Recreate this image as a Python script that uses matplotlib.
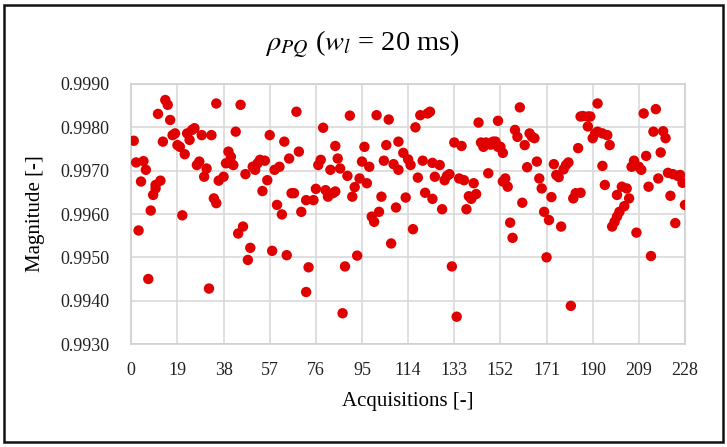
import matplotlib
matplotlib.use("Agg")
import matplotlib.pyplot as plt
from matplotlib.patches import Rectangle

plt.rcParams['font.family'] = ['Liberation Serif', 'DejaVu Serif']
plt.rcParams['mathtext.fontset'] = 'stix'

# acquisition number and rho_PQ magnitude
acq = [1, 2, 3, 4, 5, 6, 7, 8, 9, 10, 10, 11, 12, 13, 14, 15, 16, 17, 18, 19,
       20, 21, 22, 23, 24, 25, 26, 27, 28, 29, 30, 31, 32, 33, 34, 35, 35, 36, 38, 39,
       40, 41, 41, 42, 43, 44, 45, 46, 47, 48, 49, 50, 51, 52, 53, 54, 55, 56, 57, 58,
       59, 60, 61, 62, 63, 64, 65, 66, 67, 68, 69, 70, 72, 72, 73, 75, 76, 77, 78, 79,
       80, 81, 82, 83, 84, 84, 85, 86, 87, 88, 89, 90, 91, 92, 93, 94, 95, 96, 97, 98,
       99, 100, 101, 102, 103, 104, 105, 106, 107, 108, 109, 110, 110, 112, 113, 114, 115, 116, 117, 118,
       119, 120, 121, 122, 123, 124, 124, 125, 127, 128, 129, 130, 131, 132, 133, 134, 135, 136, 137, 138,
       139, 140, 141, 142, 143, 144, 145, 146, 147, 148, 149, 150, 151, 151, 152, 153, 153, 154, 155, 156,
       157, 158, 159, 160, 161, 162, 163, 164, 165, 166, 167, 168, 169, 170, 171, 172, 173, 174, 175, 176,
       177, 178, 179, 180, 181, 182, 183, 184, 185, 185, 186, 188, 188, 189, 190, 191, 192, 192, 194, 194,
       195, 196, 197, 198, 199, 200, 200, 201, 202, 203, 204, 205, 206, 207, 208, 209, 210, 211, 212, 213,
       214, 215, 216, 217, 218, 219, 220, 221, 222, 223, 224, 225, 226, 227, 228]

rho = [0.99769, 0.99719, 0.99562, 0.99675, 0.99722, 0.99702, 0.99450, 0.99608, 0.99644, 0.99659,
       0.99667, 0.99831, 0.99677, 0.99767, 0.99863, 0.99852, 0.99817, 0.99782, 0.99786, 0.99759,
       0.99755, 0.99597, 0.99738, 0.99786, 0.99771, 0.99794, 0.99798, 0.99713, 0.99721, 0.99782,
       0.99686, 0.99705, 0.99428, 0.99782, 0.99636, 0.99855, 0.99625, 0.99677, 0.99686, 0.99717,
       0.99744, 0.99732, 0.99717, 0.99713, 0.99790, 0.99555, 0.99852, 0.99571, 0.99692, 0.99494,
       0.99522, 0.99709, 0.99702, 0.99717, 0.99725, 0.99653, 0.99723, 0.99678, 0.99782, 0.99515,
       0.99702, 0.99621, 0.99709, 0.99599, 0.99767, 0.99505, 0.99728, 0.99648, 0.99648, 0.99836,
       0.99744, 0.99605, 0.99632, 0.99420, 0.99477, 0.99632, 0.99658, 0.99713, 0.99725, 0.99799,
       0.99655, 0.99640, 0.99702, 0.99648, 0.99652, 0.99757, 0.99728, 0.99705, 0.99371, 0.99479,
       0.99688, 0.99827, 0.99640, 0.99662, 0.99504, 0.99682, 0.99721, 0.99755, 0.99671, 0.99709,
       0.99594, 0.99582, 0.99828, 0.99605, 0.99640, 0.99723, 0.99759, 0.99818, 0.99532, 0.99715,
       0.99615, 0.99702, 0.99767, 0.99741, 0.99638, 0.99726, 0.99713, 0.99565, 0.99800, 0.99684,
       0.99828, 0.99723, 0.99649, 0.99832, 0.99836, 0.99635, 0.99718, 0.99686, 0.99713, 0.99611,
       0.99678, 0.99688, 0.99692, 0.99479, 0.99765, 0.99363, 0.99682, 0.99757, 0.99678, 0.99611,
       0.99641, 0.99635, 0.99671, 0.99646, 0.99811, 0.99765, 0.99755, 0.99765, 0.99694, 0.99760,
       0.99767, 0.99767, 0.99755, 0.99815, 0.99755, 0.99741, 0.99675, 0.99682, 0.99663, 0.99580,
       0.99545, 0.99794, 0.99778, 0.99846, 0.99626, 0.99759, 0.99708, 0.99786, 0.99778, 0.99775,
       0.99721, 0.99682, 0.99659, 0.99605, 0.99500, 0.99586, 0.99639, 0.99715, 0.99690, 0.99685,
       0.99571, 0.99703, 0.99713, 0.99719, 0.99388, 0.99636, 0.99648, 0.99752, 0.99825, 0.99649,
       0.99826, 0.99825, 0.99802, 0.99825, 0.99775, 0.99786, 0.99855, 0.99790, 0.99786, 0.99711,
       0.99667, 0.99782, 0.99759, 0.99571, 0.99582, 0.99594, 0.99644, 0.99605, 0.99663, 0.99618,
       0.99659, 0.99636, 0.99709, 0.99723, 0.99557, 0.99709, 0.99702, 0.99832, 0.99734, 0.99663,
       0.99503, 0.99790, 0.99842, 0.99682, 0.99742, 0.99791, 0.99775, 0.99695, 0.99642, 0.99692,
       0.99579, 0.99688, 0.99690, 0.99672, 0.99621]

xticks = list(range(0, 229, 19))
yticks = [0.9930, 0.9940, 0.9950, 0.9960, 0.9970, 0.9980, 0.9990]

fig = plt.figure(figsize=(7.27, 4.47), dpi=100)
ax = fig.add_axes([0.1806, 0.2304, 0.9422 - 0.1806, 0.8121 - 0.2304])

ax.scatter(acq, rho, s=56, color='#E00000', edgecolors='none', zorder=3)

ax.set_xlim(0, 228)
ax.set_ylim(0.9930, 0.9990)
ax.set_xticks(xticks)
ax.set_yticks(yticks)
ax.set_yticklabels(['%.4f' % v for v in yticks])
ax.grid(True, color='#D9D9D9', linewidth=1.2)
ax.set_axisbelow(True)
for sp in ax.spines.values():
    sp.set_color('#D0D0D0')
    sp.set_linewidth(1.2)
ax.tick_params(length=0, labelsize=13, colors='#222222')
ax.tick_params(axis='x', pad=13)
ax.tick_params(axis='y', pad=16)

ax.set_xlabel('Acquisitions [-]', fontsize=15, labelpad=9)
ax.set_ylabel('Magnitude [-]', fontsize=15, labelpad=11)
fig.text(0.498, 0.9, r'$\rho_{PQ}$ ($w_l$ = 20 ms)', fontsize=20.5,
         ha='center', va='center')

fig.patches.append(Rectangle((0.006, 0.012), 0.988, 0.976, transform=fig.transFigure,
                             fill=False, edgecolor='#111111', linewidth=1.8))

fig.savefig('out.png', dpi=100)
